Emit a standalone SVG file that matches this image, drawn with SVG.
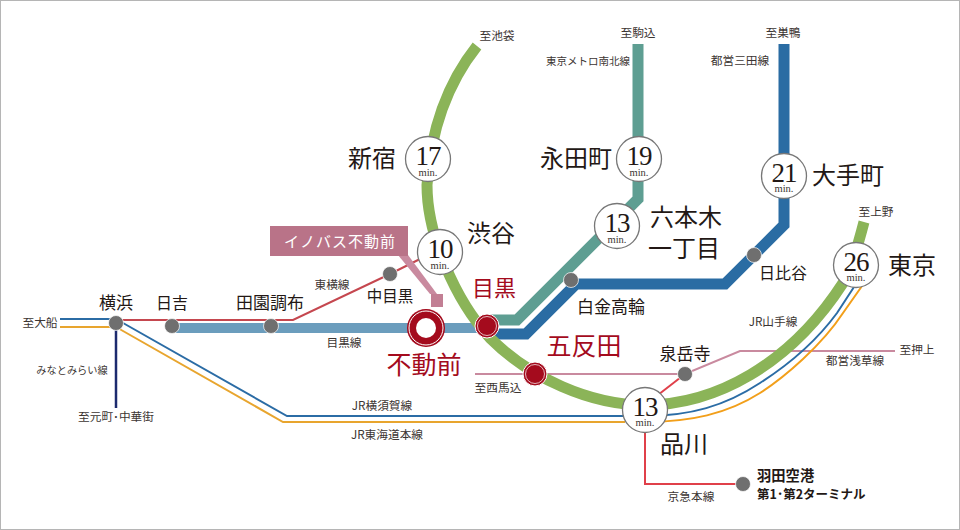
<svg xmlns="http://www.w3.org/2000/svg" width="960" height="530" viewBox="0 0 960 530">
<style>
text{font-family:"Noto Sans CJK JP","Liberation Serif",sans-serif;fill:#231815;text-anchor:middle}
.s{font-size:11.7px;fill:#3c3532}
.m{font-size:17px}
.l{font-size:24px}
.r{font-size:25px;fill:#a40b1d}
.n{font-family:"Liberation Serif",serif;font-size:27px;letter-spacing:-1px}
.u{font-family:"Liberation Serif",serif;font-size:10.5px;fill:#3c3532}
.b{fill:#fff;stroke:#777;stroke-width:1.3}
.g{fill:#6f6f6f;stroke:#fff;stroke-width:1;stroke-opacity:.7}
.w{fill:none;stroke-linejoin:miter}
.rd{fill:#a40b1d;stroke:#fff;stroke-width:1}
.ro{fill:#a40b1d}
</style>
<rect width="960" height="530" fill="#fff"/>
<rect x=".5" y=".5" width="959" height="529" fill="none" stroke="#b5b5b5"/>
<g id="connectors">
<path class="w" d="M60 319H108L116 320" stroke="#2b6ca5" stroke-width="2"/>
<path class="w" d="M60 327H116" stroke="#e8a52e" stroke-width="2"/>
<path class="w" d="M116 320H293L390 274L424 257" stroke="#c5474f" stroke-width="2"/>
<path class="w" d="M116 319L287 416H625" stroke="#2b6ca5" stroke-width="2"/>
<path class="w" d="M116 327L283 422H625" stroke="#e8a52e" stroke-width="2"/>
<path class="w" d="M116 322V408" stroke="#1c2a6e" stroke-width="2.5"/>
<path class="w" d="M172 328H480" stroke="#6b9dbd" stroke-width="10"/>
<path class="w" d="M475 374H685L740 351H895" stroke="#c98a9f" stroke-width="2"/>
<path class="w" d="M645 405L685 374" stroke="#e0404a" stroke-width="2"/>
<path class="w" d="M645 432V484H743" stroke="#e0404a" stroke-width="2"/>
<path class="w" d="M638 44V199L517 320H487" stroke="#5e9e92" stroke-width="11"/>
<path class="w" d="M784 44V225L725 284H576L526 334H487" stroke="#2a6ca3" stroke-width="11"/>
<path class="w" d="M477 46C450 80 431 125 427 185C427 235 455 300 490 338C530 378 590 405 645 405C715 405 790 365 843 283C850 272 858 245 864 222" stroke="#8bb458" stroke-width="11"/>
<path class="w" d="M645 416C690 416 725 406 760 383C785 367 815 343 837 313L854 287" stroke="#2b6ca5" stroke-width="2"/>
<path class="w" d="M645 422C690 422 727 414 760 393C785 377 822 345 843 313L862 286" stroke="#f29f1a" stroke-width="2"/>
<path d="M398 255H408L437 294H430Z" fill="#c98a9f"/>
</g>
<g id="labels">
<text class="s" x="497" y="40">至池袋</text>
<text class="s" x="638" y="37">至駒込</text>
<text class="s" x="783" y="37">至巣鴨</text>
<text class="s" x="588" y="65" style="font-size:10.5px">東京メトロ南北線</text>
<text class="s" x="740" y="65">都営三田線</text>
<text class="s" x="876" y="216">至上野</text>
<text class="s" x="40" y="327">至大船</text>
<text class="s" x="72" y="374" style="font-size:10.2px">みなとみらい線</text>
<text class="s" x="116" y="421">至元町･中華街</text>
<text class="s" x="332" y="289">東横線</text>
<text class="s" x="344" y="347">目黒線</text>
<text class="s" x="498" y="392">至西馬込</text>
<text class="s" x="382" y="410">JR横須賀線</text>
<text class="s" x="387" y="439">JR東海道本線</text>
<text class="s" x="773" y="326">JR山手線</text>
<text class="s" x="855" y="365">都営浅草線</text>
<text class="s" x="917" y="354">至押上</text>
<text class="s" x="691" y="501">京急本線</text>
</g>
<g id="n-shinjuku"><circle class="b" cx="428" cy="159" r="22.5"/><text x="428" y="165"><tspan class="n">17</tspan><tspan class="u" x="428" dy="11">min.</tspan></text><text class="l" x="372" y="167">新宿</text></g>
<g id="n-shibuya"><circle class="b" cx="440" cy="252" r="22.5"/><text x="440" y="258"><tspan class="n">10</tspan><tspan class="u" x="440" dy="11">min.</tspan></text><text class="l" x="491" y="242">渋谷</text></g>
<g id="n-nagatacho"><circle class="b" cx="639" cy="159" r="22.5"/><text x="639" y="165"><tspan class="n">19</tspan><tspan class="u" x="639" dy="11">min.</tspan></text><text class="l" x="576" y="167">永田町</text></g>
<g id="n-roppongi"><circle class="b" cx="617" cy="226" r="22.5"/><text x="617" y="232"><tspan class="n">13</tspan><tspan class="u" x="617" dy="11">min.</tspan></text><text class="l" x="686" y="226">六本木</text><text class="l" x="684" y="257">一丁目</text></g>
<g id="n-otemachi"><circle class="b" cx="784" cy="176" r="22.5"/><text x="784" y="182"><tspan class="n">21</tspan><tspan class="u" x="784" dy="10">min.</tspan></text><text class="l" x="848" y="184">大手町</text></g>
<g id="n-tokyo"><circle class="b" cx="856" cy="265" r="22.5"/><text x="856" y="271"><tspan class="n">26</tspan><tspan class="u" x="856" dy="10">min.</tspan></text><text class="l" x="912" y="274">東京</text></g>
<g id="n-shinagawa"><circle class="b" cx="645" cy="410" r="22.5"/><text x="645" y="416"><tspan class="n">13</tspan><tspan class="u" x="645" dy="10">min.</tspan></text><text class="l" x="684" y="453">品川</text></g>
<g id="n-yokohama"><circle class="g" cx="116" cy="323" r="7.5"/><text class="m" x="116" y="309">横浜</text></g>
<g id="n-hiyoshi"><circle class="g" cx="172" cy="326" r="7.5"/><text class="m" x="172" y="309" style="font-size:16px">日吉</text></g>
<g id="n-denen"><circle class="g" cx="271" cy="326" r="7.5"/><text class="m" x="270" y="309">田園調布</text></g>
<g id="n-nakameguro"><circle class="g" cx="390" cy="274" r="7.5"/><text class="m" x="390" y="302" style="font-size:15.5px">中目黒</text></g>
<g id="n-shirokane"><circle class="g" cx="571" cy="280" r="7.5"/><text class="m" x="611" y="313">白金高輪</text></g>
<g id="n-hibiya"><circle class="g" cx="754" cy="255" r="7.5"/><text class="m" x="783" y="279" style="font-size:16px">日比谷</text></g>
<g id="n-sengakuji"><circle class="g" cx="685" cy="374" r="7.5"/><text class="m" x="685" y="360">泉岳寺</text></g>
<g id="n-haneda"><circle class="g" cx="743" cy="484" r="7.5"/><text x="757" y="481" style="font-size:14.3px;font-weight:700;text-anchor:start">羽田空港</text><text x="757" y="499" style="font-size:12.5px;font-weight:700;text-anchor:start">第1･第2ターミナル</text></g>
<g id="n-meguro"><circle class="rd" cx="487" cy="326" r="12"/><circle cx="487" cy="326" r="9.5" fill="none" stroke="#fff" stroke-width=".7"/><text class="r" x="494" y="296" style="font-size:22px">目黒</text></g>
<g id="n-gotanda"><circle class="rd" cx="535" cy="374" r="12"/><circle cx="535" cy="374" r="9.5" fill="none" stroke="#fff" stroke-width=".7"/><text class="r" x="584" y="355">五反田</text></g>
<g id="n-fudomae"><circle class="ro" cx="426" cy="328" r="19"/><circle cx="426" cy="328" r="17" fill="none" stroke="#fff" stroke-width="1"/><circle cx="426" cy="328" r="10" fill="#fff"/><text class="r" x="424" y="374">不動前</text></g>
<g id="n-bus"><rect x="270" y="226" width="138" height="30" fill="#b97388"/><text x="340" y="247" style="fill:#fff;font-size:15px;letter-spacing:1px">イノバス不動前</text><rect x="431" y="294" width="12" height="13" fill="#c27f94"/></g>
</svg>
